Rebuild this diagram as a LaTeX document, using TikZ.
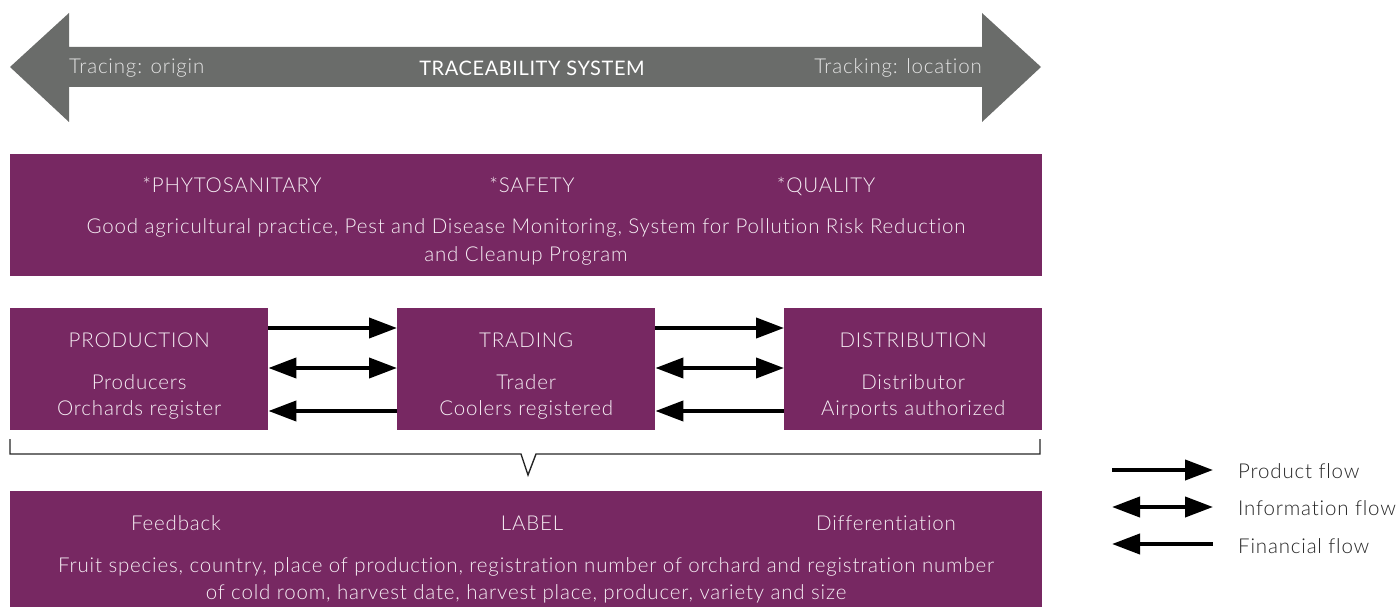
\documentclass[tikz,border=0pt]{standalone}
\usepackage{fontspec}
\setmainfont{Lato Light}[LetterSpace=4, Ligatures=NoCommon]
\newfontfamily\latoreg{Lato}[LetterSpace=3, Ligatures=NoCommon]
\usetikzlibrary{arrows.meta}
\definecolor{plum}{HTML}{772862}
\definecolor{arrowgray}{HTML}{6A6C6A}
\definecolor{palegray}{HTML}{E4E4E4}
\definecolor{boxtext}{HTML}{F6EEF4}
\tikzset{
  pbox/.style={fill=plum, draw=none, anchor=north west, inner sep=0pt},
  ptext/.style={text=boxtext, font=\fontsize{20.5}{22}\selectfont, inner sep=0pt, anchor=base},
  gtext/.style={text=palegray, font=\fontsize{20.5}{22}\selectfont, inner sep=0pt},
  flow/.style={line width=4pt, line cap=butt, >={Triangle[length=28pt,width=20pt]}},
  legtext/.style={text=black!85, font=\fontsize{20.5}{22}\selectfont, inner sep=0pt, anchor=west},
}
\begin{document}
\begin{tikzpicture}[x=1pt,y=-1pt]
\useasboundingbox (0,0) rectangle (1399,609);
% big double arrow
\fill[arrowgray] (10,67) -- (69,13) -- (69,47) -- (982,47) -- (982,13) -- (1041,67)
  -- (982,122) -- (982,87) -- (69,87) -- (69,122) -- cycle;
\node[gtext, anchor=west] (tracing) at (69,68) {Tracing: origin};
\node[text=white, inner sep=0pt, font=\latoreg\fontsize{20}{22}\selectfont] (tsys) at (532,68) {TRACEABILITY SYSTEM};
\node[gtext, anchor=east] (tracking) at (982,68) {Tracking: location};
% top box
\node[pbox, minimum width=1032pt, minimum height=122pt] (qual) at (10,154) {};
\node[ptext] (phyto) at (232,193) {*PHYTOSANITARY};
\node[ptext] (safety) at (532,193) {*SAFETY};
\node[ptext] (quality) at (826,193) {*QUALITY};
\node[ptext] (gap1) at (526,234) {Good agricultural practice, Pest and Disease Monitoring, System for Pollution Risk Reduction};
\node[ptext] (gap2) at (526,262) {and Cleanup Program};
% middle boxes
\node[pbox, minimum width=258pt, minimum height=122pt] (prod) at (10,308) {};
\node[pbox, minimum width=258pt, minimum height=122pt] (trade) at (397,308) {};
\node[pbox, minimum width=258pt, minimum height=122pt] (dist) at (784,308) {};
\node[ptext] (prodh) at (prod.center |- 0,347) {PRODUCTION};
\node[ptext] (prod1) at (prod.center |- 0,389) {Producers};
\node[ptext] (prod2) at (prod.center |- 0,415) {Orchards register};
\node[ptext] (tradeh) at (trade.center |- 0,347) {TRADING};
\node[ptext] (trade1) at (trade.center |- 0,389) {Trader};
\node[ptext] (trade2) at (trade.center |- 0,415) {Coolers registered};
\node[ptext] (disth) at (dist.center |- 0,347) {DISTRIBUTION};
\node[ptext] (dist1) at (dist.center |- 0,389) {Distributor};
\node[ptext] (dist2) at (dist.center |- 0,415) {Airports authorized};
% flows
\draw[flow, ->] (prod.east |- 0,328) -- (trade.west |- 0,328);
\draw[flow, <->] (prod.east |- 0,368) -- (trade.west |- 0,368);
\draw[flow, <-] (prod.east |- 0,411) -- (trade.west |- 0,411);
\draw[flow, ->] (trade.east |- 0,328) -- (dist.west |- 0,328);
\draw[flow, <->] (trade.east |- 0,368) -- (dist.west |- 0,368);
\draw[flow, <-] (trade.east |- 0,411) -- (dist.west |- 0,411);
% bracket
\coordinate (brl) at (10,439);
\coordinate (brr) at (1040,439);
\coordinate (brv) at (528,475);
\draw[line width=1.4pt, black!85, line join=miter] (brl) -- (10,454) -- (521,454) -- (brv) -- (536,454) -- (1040,454) -- (brr);
% bottom box
\node[pbox, minimum width=1032pt, minimum height=116pt] (label) at (10,491) {};
\node[ptext] (feed) at (176,530) {Feedback};
\node[ptext] (labt) at (532,530) {LABEL};
\node[ptext] (diff) at (886,530) {Differentiation};
\node[ptext] (fr1) at (526,572) {Fruit species, country, place of production, registration number of orchard and registration number};
\node[ptext] (fr2) at (526,599) {of cold room, harvest date, harvest place, producer, variety and size};
% legend
\coordinate (l1a) at (1112,470); \coordinate (l1b) at (1213,470);
\coordinate (l2a) at (1112,507); \coordinate (l2b) at (1213,507);
\coordinate (l3a) at (1112,544); \coordinate (l3b) at (1213,544);
\draw[flow, ->] (l1a) -- (l1b);
\draw[flow, <->] (l2a) -- (l2b);
\draw[flow, <-] (l3a) -- (l3b);
\node[legtext] (lg1) at (1238,471) {Product flow};
\node[legtext] (lg2) at (1238,508) {Information flow};
\node[legtext] (lg3) at (1238,546) {Financial flow};
\end{tikzpicture}
\end{document}
